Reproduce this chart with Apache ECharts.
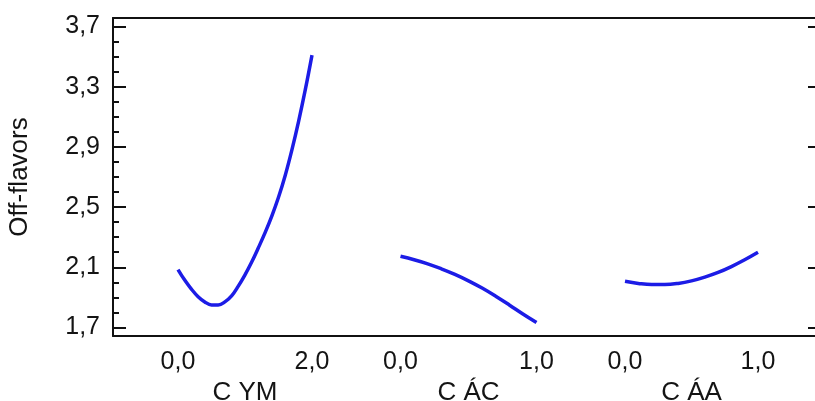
<!DOCTYPE html>
<html>
<head>
<meta charset="utf-8">
<script src="https://cdn.jsdelivr.net/npm/echarts@6/dist/echarts.min.js"></script>
<style>html,body{margin:0;padding:0;background:#fff}#c{width:815px;height:401px}</style>
</head>
<body>
<div id="c"></div>
<script>
// Data
const yTitle = 'Off-flavors';
const factorNames = ['C YM', 'C ÁC', 'C ÁA'];
const ymX = [0,0.1,0.2,0.3,0.4,0.5,0.6,0.7,0.8,0.9,1.0,1.1,1.2,1.3,1.4,1.5,1.6,1.7,1.8,1.9,2.0];
const ymY = [2.085,2.015,1.955,1.905,1.87,1.85,1.85,1.87,1.91,1.975,2.05,2.135,2.23,2.33,2.44,2.565,2.71,2.88,3.07,3.28,3.51];
const acX = [0,0.1,0.2,0.3,0.4,0.5,0.6,0.7,0.8,0.9,1.0];
const acY = [2.173,2.15,2.123,2.09,2.053,2.01,1.962,1.908,1.85,1.79,1.733];
const aaX = [0,0.1,0.2,0.3,0.4,0.5,0.6,0.7,0.8,0.9,1.0];
const aaY = [2.007,1.993,1.985,1.985,1.993,2.01,2.035,2.066,2.105,2.15,2.20];
const xTicks = [[0,2],[0,1],[0,1]];
const yMajor = [1.7,2.1,2.5,2.9,3.3,3.7];
const yMinor = [1.8,1.9,2.0,2.2,2.3,2.4,2.6,2.7,2.8,3.0,3.1,3.2,3.4,3.5,3.6];

const Y_MIN = 1.6435, Y_MAX = 3.7565;
const FONT = 'Liberation Sans, Arial, sans-serif';
const TXT = '#141414';
const LINE = '#1c1ce6';
const comma = v => v.toFixed(1).replace('.', ',');

const chart = echarts.init(document.getElementById('c'), null, {renderer: 'canvas'});
const panels = [
  {x: ymX, y: ymY, min: -0.5, max: 2.5, left: 144.5, width: 201},
  {x: acX, y: acY, min: -0.25, max: 1.25, left: 366.5, width: 204},
  {x: aaX, y: aaY, min: -0.25, max: 1.25, left: 591.75, width: 199.5}
];
const grids = [{left: 113, top: 18, width: 708, height: 318, outerBoundsMode: 'none', containLabel: false}];
const xAxes = [
  {gridIndex: 0, type: 'value', min: 0, max: 1, position: 'bottom',
   axisLine: {show: true, onZero: false, lineStyle: {color: '#111', width: 2}},
   axisTick: {show: false}, axisLabel: {show: false}, splitLine: {show: false}},
  {gridIndex: 0, type: 'value', min: 0, max: 1, position: 'top',
   axisLine: {show: true, onZero: false, lineStyle: {color: '#111', width: 2}},
   axisTick: {show: false}, axisLabel: {show: false}, splitLine: {show: false}}
];
const yAxes = [
  {gridIndex: 0, type: 'value', min: Y_MIN, max: Y_MAX, position: 'left',
   name: yTitle, nameLocation: 'middle', nameRotate: 90, nameGap: 80,
   nameTextStyle: {fontFamily: FONT, fontSize: 26, color: TXT},
   axisLine: {show: true, onZero: false, lineStyle: {color: '#111', width: 2}},
   axisTick: {show: true, inside: true, length: 13, customValues: yMajor, lineStyle: {color: '#111', width: 2}},
   axisLabel: {show: true, customValues: yMajor, formatter: comma, margin: 13,
     fontFamily: FONT, fontSize: 25, color: TXT},
   splitLine: {show: false}},
  {gridIndex: 0, type: 'value', min: Y_MIN, max: Y_MAX, position: 'left',
   axisLine: {show: false},
   axisTick: {show: true, inside: true, length: 6, customValues: yMinor, lineStyle: {color: '#111', width: 2}},
   axisLabel: {show: false}, splitLine: {show: false}},
  {gridIndex: 0, type: 'value', min: Y_MIN, max: Y_MAX, position: 'right',
   axisLine: {show: true, onZero: false, lineStyle: {color: '#111', width: 2}},
   axisTick: {show: true, inside: true, length: 13, customValues: yMajor, lineStyle: {color: '#111', width: 2}},
   axisLabel: {show: false}, splitLine: {show: false}}
];
const series = [];
panels.forEach((p, i) => {
  const gi = i + 1;
  grids.push({left: p.left, top: 18, width: p.width, height: 318, outerBoundsMode: 'none', containLabel: false});
  const xi = xAxes.length, yi = yAxes.length;
  xAxes.push({gridIndex: gi, type: 'value', min: p.min, max: p.max,
    name: factorNames[i], nameLocation: 'middle', nameGap: 38,
    nameTextStyle: {fontFamily: FONT, fontSize: 26, color: TXT},
    axisLine: {show: false}, axisTick: {show: false},
    axisLabel: {show: true, customValues: xTicks[i], formatter: comma, margin: 14,
      fontFamily: FONT, fontSize: 25, color: TXT},
    splitLine: {show: false}});
  yAxes.push({gridIndex: gi, type: 'value', min: Y_MIN, max: Y_MAX, show: false});
  series.push({type: 'line', xAxisIndex: xi, yAxisIndex: yi, smooth: 0.4, showSymbol: false,
    data: p.x.map((v, k) => [v, p.y[k]]), lineStyle: {color: LINE, width: 3.5}, silent: true});
});
chart.setOption({
  animation: false,
  backgroundColor: '#ffffff',
  grid: grids, xAxis: xAxes, yAxis: yAxes, series: series
});
</script>
</body>
</html>
